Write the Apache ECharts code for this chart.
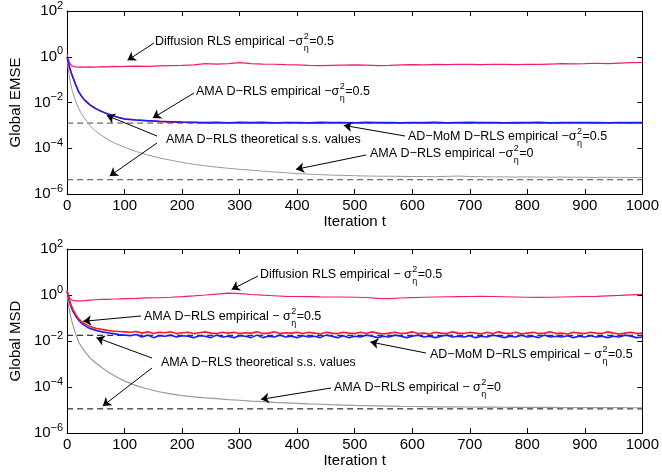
<!DOCTYPE html>
<html>
<head>
<meta charset="utf-8">
<script src="https://cdn.jsdelivr.net/npm/echarts@6/dist/echarts.min.js"></script>
<style>html,body{margin:0;padding:0;background:#fff}#main{width:662px;height:476px}</style>
</head>
<body>
<div id="main"></div>
<script>
// iteration grids used for the read-off values
var itersCoarse = [0,2,4,6,8,10,15,20,25,30,40,50,60,70,80,90,100,
    120,140,160,180,200,220,240,260,280,300,320,340,360,380,400,420,440,460,480,500,
    520,540,560,580,600,620,640,660,680,700,720,740,760,780,800,820,840,860,880,900,
    920,940,960,980,1000];
var itersFine = [0,2,4,6,8,10,15,20,25,30,35,40,45,50,60,70,80,90,100,
    110,120,130,140,150,160,170,180,190,200,210,220,230,240,250,260,270,280,290,300,
    310,320,330,340,350,360,370,380,390,400,410,420,430,440,450,460,470,480,490,500,
    510,520,530,540,550,560,570,580,590,600,610,620,630,640,650,660,670,680,690,700,
    710,720,730,740,750,760,770,780,790,800,810,820,830,840,850,860,870,880,890,900,
    910,920,930,940,950,960,970,980,990,1000];
var theoryIters = [0, 1000];

// ---- Global EMSE (top) ----
var emsePink = [1.3,0.8,0.55,0.45,0.4,0.38,0.36,0.35,0.36,0.35,0.36,0.35,0.37,0.36,0.38,0.37,0.38,
    0.39,0.38,0.40,0.41,0.42,0.44,0.50,0.48,0.50,0.55,0.50,0.48,0.47,0.45,0.44,0.42,0.41,0.42,0.43,0.44,
    0.43,0.41,0.42,0.44,0.45,0.44,0.46,0.45,0.47,0.46,0.45,0.47,0.46,0.45,0.47,0.46,0.48,0.50,0.49,0.50,
    0.52,0.50,0.53,0.55,0.56];
var emseGray = [0.8,0.3,0.13,0.07,0.04,0.027,0.011,0.0055,0.0032,0.0021,0.00095,0.00055,0.00036,0.00025,0.00018,0.00014,0.00011,
    7.2e-5,5.1e-5,3.8e-5,3.0e-5,2.4e-5,2.0e-5,1.7e-5,1.5e-5,1.33e-5,1.2e-5,1.1e-5,1.0e-5,9.2e-6,8.5e-6,7.8e-6,
    7.4e-6,7.0e-6,6.7e-6,6.5e-6,6.3e-6,6.1e-6,6.0e-6,6.0e-6,5.9e-6,5.8e-6,5.8e-6,5.7e-6,5.9e-6,6.1e-6,5.8e-6,
    5.7e-6,5.6e-6,5.6e-6,5.5e-6,5.6e-6,5.5e-6,5.4e-6,5.5e-6,5.4e-6,5.4e-6,5.3e-6,5.4e-6,5.3e-6,5.3e-6,5.2e-6];
var emseRed = [1.0,0.58,0.37,0.24,0.17,0.125,0.058,0.029,0.019,0.013,0.0077,0.0053,0.0040,0.0032,0.0026,0.0022,0.0019,
    0.0017,0.00158,0.00148,0.00142,0.00136,0.00132,0.00128,0.00131,0.00127,0.0013,
    0.00126,0.00129,0.00127,0.00131,0.00126,0.00128,0.00125,0.0013,0.00127,0.00129,
    0.00126,0.00128,0.00124,0.00129,0.00127,0.00125,0.0013,0.00126,0.00128,0.00125,
    0.00129,0.00126,0.00128,0.00124,0.00127,0.00129,0.00125,0.00128,0.00126,0.00127,
    0.00125,0.00128,0.00126,0.00124,0.00127];
var emseBlue = [1.0,0.6,0.38,0.25,0.17,0.13,0.06,0.03,0.019,0.013,0.0078,0.0054,0.0041,0.0032,0.0026,0.0022,0.0019,
    0.0017,0.0016,0.0015,0.00145,0.0014,0.00138,0.00132,0.00136,0.0013,0.00137,
    0.00133,0.00136,0.00131,0.00135,0.00134,0.0013,0.00136,0.00133,0.00135,0.00131,
    0.00136,0.00132,0.00134,0.0013,0.00135,0.00133,0.00136,0.00131,0.00134,0.00137,
    0.00132,0.00135,0.0013,0.00134,0.00133,0.00136,0.00131,0.00134,0.00132,0.00135,
    0.00133,0.0013,0.00134,0.00132,0.00133];
var emseTheory = [1.26e-3, 4.2e-6];

// ---- Global MSD (bottom) ----
var msdPink = [1.6,1.0,0.75,0.65,0.6,0.58,0.56,0.55,0.56,0.57,0.6,0.62,0.64,0.65,0.67,0.68,0.7,
    0.72,0.75,0.76,0.8,0.85,0.92,1.0,1.1,1.2,1.15,1.05,0.98,0.93,0.88,0.86,0.85,0.83,0.82,0.82,0.8,
    0.78,0.72,0.7,0.74,0.77,0.8,0.82,0.84,0.85,0.86,0.87,0.86,0.84,0.82,0.8,0.79,0.8,0.82,0.84,0.86,
    0.88,0.92,0.96,1.02,1.06];
var msdGray = [1.0,0.45,0.22,0.12,0.075,0.05,0.02,0.009,0.0055,0.0037,0.0018,0.0011,0.0007,0.00047,0.00033,0.00024,0.00018,
    1.15e-4,8.2e-5,6.2e-5,5.0e-5,4.2e-5,3.7e-5,3.35e-5,3.1e-5,2.85e-5,2.65e-5,
    2.45e-5,2.3e-5,2.15e-5,2.05e-5,1.95e-5,1.85e-5,1.78e-5,1.7e-5,1.64e-5,1.58e-5,
    1.54e-5,1.5e-5,1.47e-5,1.44e-5,1.42e-5,1.4e-5,1.38e-5,1.37e-5,1.36e-5,1.35e-5,
    1.34e-5,1.33e-5,1.32e-5,1.31e-5,1.3e-5,1.3e-5,1.29e-5,1.28e-5,1.28e-5,1.27e-5,
    1.27e-5,1.26e-5,1.26e-5,1.25e-5,1.25e-5];
var msdRed = [1.6,0.95,0.6,0.42,0.31,0.24,0.14,0.092,0.07,0.057,0.049,0.043,0.039,0.036,0.032,0.029,0.027,0.026,0.025,
    0.024,0.026,0.022,0.025,0.021,0.024,0.023,0.025,0.021,0.023,
    0.024,0.021,0.023,0.025,0.022,0.021,0.024,0.022,0.024,0.021,
    0.023,0.022,0.025,0.021,0.022,0.025,0.021,0.023,0.022,0.024,
    0.021,0.024,0.022,0.020,0.024,0.022,0.021,0.024,0.022,0.021,
    0.024,0.021,0.025,0.022,0.020,0.022,0.024,0.021,0.022,0.025,
    0.021,0.022,0.020,0.024,0.022,0.021,0.025,0.022,0.021,0.024,
    0.022,0.020,0.024,0.021,0.025,0.022,0.021,0.024,0.020,0.022,
    0.024,0.021,0.022,0.025,0.021,0.022,0.020,0.024,0.022,0.021,
    0.024,0.022,0.021,0.025,0.022,0.020,0.022,0.024,0.021,0.022];
var msdBlue = [1.4,0.85,0.52,0.36,0.26,0.2,0.12,0.08,0.06,0.048,0.04,0.035,0.032,0.029,0.025,0.023,0.021,0.019,0.018,
    0.017,0.019,0.015,0.018,0.014,0.017,0.016,0.018,0.015,0.017,
    0.016,0.014,0.017,0.016,0.014,0.018,0.015,0.016,0.014,0.017,
    0.016,0.014,0.018,0.014,0.016,0.015,0.018,0.015,0.016,0.014,
    0.017,0.015,0.016,0.014,0.018,0.016,0.014,0.017,0.014,0.016,
    0.015,0.018,0.016,0.014,0.016,0.015,0.018,0.016,0.014,0.016,
    0.018,0.015,0.016,0.014,0.016,0.018,0.015,0.016,0.015,0.017,
    0.014,0.016,0.015,0.018,0.016,0.014,0.016,0.015,0.018,0.015,
    0.016,0.014,0.018,0.015,0.016,0.015,0.017,0.014,0.016,0.015,
    0.017,0.015,0.016,0.014,0.016,0.015,0.018,0.016,0.014,0.015];
var msdTheory = [1.77e-2, 1.12e-5];

// annotations: text placed in pixels, arrow tips given in data units
var emseNotes = [
    {pre: 'Diffusion RLS empirical −σ', post: '=0.5', at: [155, 42], from: [[154, 43]], to: [[105, 0.7]]},
    {pre: 'AMA D−RLS empirical −σ', post: '=0.5', at: [196, 92], from: [[194, 93]], to: [[149, 0.0021]]},
    {pre: 'AMA D−RLS theoretical s.s. values', at: [166, 140], from: [[157, 136], [157, 143]], to: [[69, 0.0027], [74, 6.1e-6]]},
    {pre: 'AD−MoM D−RLS empirical −σ', post: '=0.5', at: [408, 137], from: [[405, 136]], to: [[481, 0.001]]},
    {pre: 'AMA D−RLS empirical −σ', post: '=0', at: [370, 154], from: [[366, 155]], to: [[398, 1.2e-5]]}
];
var msdNotes = [
    {pre: 'Diffusion RLS empirical − σ', post: '=0.5', at: [260, 275], from: [[258, 276]], to: [[286, 1.75]]},
    {pre: 'AMA D−RLS empirical − σ', post: '=0.5', at: [144, 317], from: [[141, 316]], to: [[28, 0.072]]},
    {pre: 'AMA D−RLS theoretical s.s. values', at: [161, 363], from: [[152, 358], [152, 368]], to: [[51, 0.014], [62, 1.5e-5]]},
    {pre: 'AD−MoM D−RLS empirical − σ', post: '=0.5', at: [430, 355], from: [[426, 353]], to: [[527, 0.0091]]},
    {pre: 'AMA D−RLS empirical − σ', post: '=0', at: [334, 388], from: [[331, 388]], to: [[337, 2.9e-5]]}
];

var FONT = '"Liberation Sans", Arial, Helvetica, sans-serif';
var NOTE_SIZE = 12.5;

function pairs(xs, ys) {
    return xs.map(function (x, i) { return [x, ys[i]]; });
}

function yLabel(v) {
    var e = Math.round(Math.log(v) / Math.LN10);
    return '{b|10}{e|' + (e < 0 ? '−' + (-e) : e) + '}';
}

function xAxes(gi) {
    var main = {
        type: 'value', gridIndex: gi, min: 0, max: 1000, interval: 100,
        name: 'Iteration t', nameLocation: 'middle', nameGap: 18,
        nameTextStyle: {fontFamily: FONT, fontSize: 15, color: '#000', verticalAlign: 'top'},
        axisLine: {show: true, onZero: false, lineStyle: {color: '#000'}},
        axisTick: {inside: true, length: 5, lineStyle: {color: '#000'}},
        axisLabel: {fontFamily: FONT, fontSize: 15, color: '#000', margin: 4,
            formatter: function (v) { return String(v); }},
        splitLine: {show: false}
    };
    var top = {
        type: 'value', gridIndex: gi, position: 'top', min: 0, max: 1000, interval: 100,
        axisLine: {show: true, onZero: false, lineStyle: {color: '#000'}},
        axisTick: {inside: true, length: 5, lineStyle: {color: '#000'}},
        axisLabel: {show: false}, splitLine: {show: false}
    };
    return [main, top];
}

function yAxes(gi, name) {
    var main = {
        type: 'log', logBase: 100, gridIndex: gi, min: 1e-6, max: 1e2,
        name: name, nameLocation: 'middle', nameGap: 43, nameRotate: 90,
        nameTextStyle: {fontFamily: FONT, fontSize: 15, color: '#000'},
        axisLine: {show: true, onZero: false, lineStyle: {color: '#000'}},
        axisTick: {inside: true, length: 5, lineStyle: {color: '#000'}},
        axisLabel: {
            formatter: yLabel, margin: 4,
            rich: {
                b: {fontFamily: FONT, fontSize: 15, color: '#000', lineHeight: 22, verticalAlign: 'middle'},
                e: {fontFamily: FONT, fontSize: 11, color: '#000', lineHeight: 11, verticalAlign: 'top'}
            }
        },
        splitLine: {show: false}, minorTick: {show: false}
    };
    var right = {
        type: 'log', logBase: 100, gridIndex: gi, position: 'right', min: 1e-6, max: 1e2,
        axisLine: {show: true, onZero: false, lineStyle: {color: '#000'}},
        axisTick: {inside: true, length: 5, lineStyle: {color: '#000'}},
        axisLabel: {show: false}, splitLine: {show: false}
    };
    return [main, right];
}

function line(gi, xs, ys, color, width, dashed) {
    return {
        type: 'line', xAxisIndex: gi * 2, yAxisIndex: gi * 2,
        data: pairs(xs, ys), symbol: 'none', silent: true,
        lineStyle: {color: color, width: width, type: dashed ? [6, 4] : 'solid'}
    };
}

function arrows(gi, notes) {
    var data = [];
    notes.forEach(function (n) {
        n.from.forEach(function (f, i) {
            data.push([{x: f[0], y: f[1]}, {coord: n.to[i]}]);
        });
    });
    return {
        type: 'line', xAxisIndex: gi * 2, yAxisIndex: gi * 2, data: [], silent: true,
        markLine: {
            silent: true, symbol: ['none', 'arrow'], symbolSize: 8,
            label: {show: false},
            lineStyle: {color: '#000', width: 1, type: 'solid'},
            emphasis: {disabled: true},
            data: data
        }
    };
}

var measureCtx = document.createElement('canvas').getContext('2d');
function textWidth(s, size) {
    measureCtx.font = size + 'px ' + FONT;
    return measureCtx.measureText(s).width;
}

function txt(s, x, y, size) {
    return {
        type: 'text', x: x, y: y, silent: true,
        style: {text: s, fill: '#000', font: size + 'px ' + FONT,
            align: 'left', verticalAlign: 'middle', textAlign: 'left', textVerticalAlign: 'middle'}
    };
}

function noteGraphics(notes) {
    var els = [];
    notes.forEach(function (n) {
        var x = n.at[0], y = n.at[1];
        els.push(txt(n.pre, x, y, NOTE_SIZE));
        if (n.post) {
            var w = textWidth(n.pre, NOTE_SIZE);
            els.push(txt('2', x + w + 0.5, y - 5.5, 9));
            els.push(txt('η', x + w + 0.5, y + 6.5, 9));
            els.push(txt(n.post, x + w + 6, y, NOTE_SIZE));
        }
    });
    return els;
}

var myChart = echarts.init(document.getElementById('main'));

var option = {
    animation: false,
    backgroundColor: '#fff',
    grid: [
        {left: 67, top: 10, width: 578, height: 184},
        {left: 67, top: 249, width: 578, height: 184}
    ],
    xAxis: xAxes(0).concat(xAxes(1)),
    yAxis: yAxes(0, 'Global EMSE').concat(yAxes(1, 'Global MSD')),
    series: [
        line(0, theoryIters, [emseTheory[0], emseTheory[0]], '#444', 1, true),
        line(0, theoryIters, [emseTheory[1], emseTheory[1]], '#444', 1, true),
        line(0, itersCoarse, emseGray, '#9a9a9a', 1),
        line(0, itersCoarse, emsePink, '#f51a75', 1.2),
        line(0, itersCoarse, emseRed, '#ff1a1a', 1.5),
        line(0, itersCoarse, emseBlue, '#1a1aff', 1.5),
        arrows(0, emseNotes),

        line(1, theoryIters, [msdTheory[0], msdTheory[0]], '#000', 1, true),
        line(1, theoryIters, [msdTheory[1], msdTheory[1]], '#000', 1, true),
        line(1, itersCoarse, msdGray, '#9a9a9a', 1.2),
        line(1, itersCoarse, msdPink, '#f51a75', 1.2),
        line(1, itersFine, msdBlue, '#1a1aff', 1.6),
        line(1, itersFine, msdRed, '#ff1a1a', 1.6),
        arrows(1, msdNotes)
    ],
    graphic: noteGraphics(emseNotes).concat(noteGraphics(msdNotes))
};
myChart.setOption(option);
</script>
</body>
</html>
